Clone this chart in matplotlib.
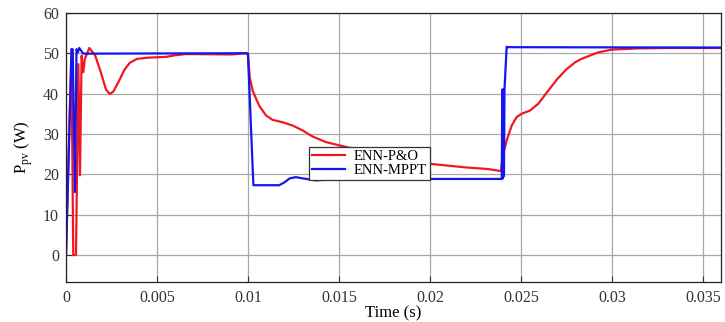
import matplotlib.pyplot as plt

# ---- data ----
t_po = [0, 0.0003, 0.0004, 0.00055, 0.00068, 0.00077, 0.00086, 0.00095, 0.00104,
        0.00128, 0.0016, 0.0019, 0.0022, 0.00241, 0.0026, 0.0029, 0.0032, 0.0035,
        0.0039, 0.0045, 0.0055, 0.006, 0.0066, 0.0091, 0.0099, 0.01, 0.0101,
        0.01026, 0.01062, 0.01099, 0.01135, 0.0119, 0.01245, 0.013, 0.01354,
        0.01428, 0.015, 0.01555, 0.016, 0.017, 0.018, 0.019, 0.02, 0.022, 0.0232,
        0.02391, 0.02399, 0.02422, 0.0245, 0.02477, 0.02504, 0.0255, 0.02596,
        0.0265, 0.027, 0.0275, 0.028, 0.02833, 0.02924, 0.03, 0.03143, 0.033,
        0.036]
p_po = [0, 51, 0, 0, 47.3, 19.75, 49.4, 45.3, 48.6,
        51.3, 49.5, 45.5, 41, 39.9, 40.5, 43, 45.8, 47.6,
        48.6, 48.9, 49.1, 49.5, 49.8, 49.7, 50, 50, 44,
        40.7, 37, 34.6, 33.5, 32.9, 32.1, 30.9, 29.4,
        28, 27.2, 26.6, 26.2, 25.2, 24.3, 23.4, 22.6, 21.7, 21.3,
        20.8, 24.3, 28.4, 32.1, 34.2, 35, 35.8, 37.5,
        40.7, 43.6, 46.0, 47.8, 48.6, 50.2, 50.9, 51.2, 51.3,
        51.3]

t_mppt = [0, 0.00031, 0.00037, 0.00049, 0.00058, 0.00065, 0.00073, 0.00095,
          0.0099, 0.01, 0.0103, 0.01172, 0.012, 0.0123, 0.01263, 0.013, 0.01373,
          0.0145, 0.015, 0.02395, 0.02398, 0.02401, 0.02404, 0.02407, 0.0241,
          0.02422, 0.0243, 0.036]
p_mppt = [0, 51, 51, 15.6, 51, 50.2, 51.3, 49.9,
          50, 49.8, 17.3, 17.3, 18.0, 19.0, 19.3, 19.0, 18.5,
          18.7, 18.85, 18.85, 41, 19, 41, 19.5, 41,
          51.6, 51.5, 51.4]

x_ticks = [0, 0.005, 0.01, 0.015, 0.02, 0.025, 0.03, 0.035]
x_labels = ['0', '0.005', '0.01', '0.015', '0.02', '0.025', '0.03', '0.035']
y_ticks = [0, 10, 20, 30, 40, 50, 60]

plt.rcParams['font.family'] = ['Liberation Serif', 'DejaVu Serif']
plt.rcParams['mathtext.fontset'] = 'custom'
plt.rcParams['mathtext.rm'] = 'Liberation Serif'

fig = plt.figure(figsize=(7.25, 3.22), dpi=100)
ax = fig.add_axes([0.091, 0.124, 0.9035, 0.836])

ax.plot(t_po, p_po, color='#f01820', lw=1.6, label='ENN-P&O')
ax.plot(t_mppt, p_mppt, color='#1515f0', lw=1.6, label='ENN-MPPT')

ax.set_xlim(0, 0.036)
ax.set_ylim(-6.7, 60)
ax.set_xticks(x_ticks)
ax.set_xticklabels(x_labels)
ax.set_yticks(y_ticks)
ax.grid(True, color='#a8a8a8', lw=0.9)
ax.tick_params(direction='in', labelsize=11.5, colors='#333333', length=4)
ax.tick_params(axis='x', pad=6)
ax.tick_params(axis='y', pad=5)
for s in ax.spines.values():
    s.set_color('#222222')
    s.set_linewidth(0.9)

ax.set_xlabel('Time (s)', fontsize=12, labelpad=-1)
ax.set_ylabel(r'P$_{\rm pv}$ (W)', fontsize=12, labelpad=6)

leg = ax.legend(loc='center', bbox_to_anchor=(0.463, 0.442), fontsize=10.5,
                fancybox=False, framealpha=1, edgecolor='#333333',
                handlelength=2.3, borderpad=0.2, labelspacing=0.05,
                handletextpad=0.6)
leg.get_frame().set_linewidth(0.9)

fig.savefig('out.png', dpi=100)
